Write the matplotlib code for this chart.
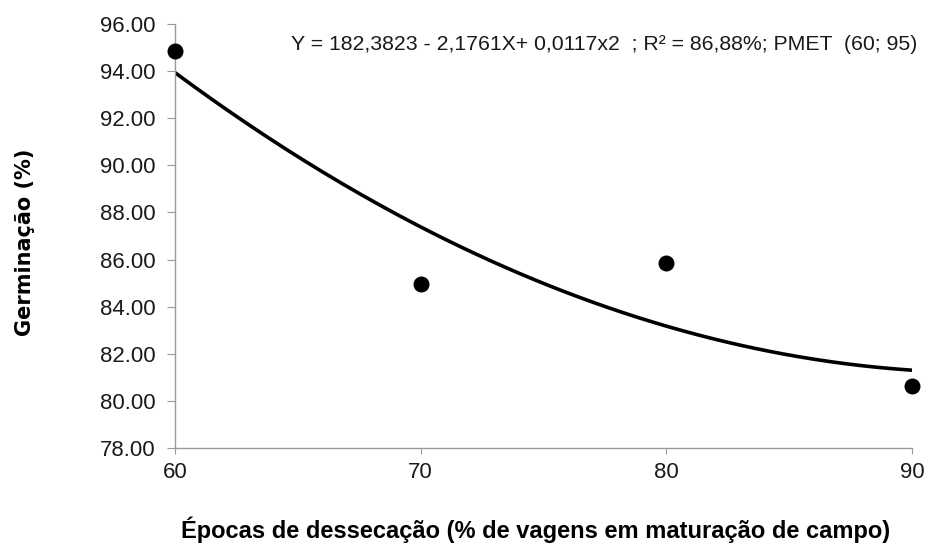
import numpy as np
import matplotlib.pyplot as plt

# dados observados
epocas = [60, 70, 80, 90]
germinacao = [94.85, 84.98, 85.85, 80.65]

# coeficientes da regressão (Y = b0 + b1*X + b2*X^2)
b0, b1, b2 = 182.3823, -2.1761, 0.0117
equacao = "Y = 182,3823 - 2,1761X+ 0,0117x2  ; R² = 86,88%; PMET  (60; 95)"

x_fit = np.linspace(60, 90, 200)
y_fit = b0 + b1 * x_fit + b2 * x_fit ** 2

fig = plt.figure(figsize=(9.29, 5.46), dpi=100)
ax = fig.add_axes([0.1884, 0.1795, 0.7933, 0.7765])

ax.plot(x_fit, y_fit, color="black", lw=2.6, zorder=2)
ax.plot(epocas, germinacao, "o", color="black", ms=10.5, zorder=3, clip_on=False)

ax.set_xlim(60, 90)
ax.set_ylim(78, 96)
ax.set_xticks([60, 70, 80, 90])
ax.set_yticks(np.arange(78, 96.1, 2))
ax.set_yticklabels([f"{v:.2f}" for v in np.arange(78, 96.1, 2)])

for s in ["top", "right"]:
    ax.spines[s].set_visible(False)
for s in ["left", "bottom"]:
    ax.spines[s].set_color("#999999")
    ax.spines[s].set_linewidth(1)
ax.tick_params(axis="both", colors="#999999", labelcolor="#1a1a1a", labelsize=16)
ax.tick_params(axis="y", length=6, pad=8)
ax.tick_params(axis="x", length=4, pad=6)
for lab in ax.get_xticklabels() + ax.get_yticklabels():
    lab.set_family("Liberation Sans")

fig.text(0.988, 0.918, equacao, ha="right", va="center",
         fontsize=15.3, family="Liberation Sans", color="#1a1a1a")

fig.text(0.027, 0.557, "Germinação (%)", rotation=90, ha="center", va="center",
         fontsize=15, fontweight="bold", family="DejaVu Sans")
fig.text(0.577, 0.029, "Épocas de dessecação (% de vagens em maturação de campo)",
         ha="center", va="center", fontsize=17, fontweight="bold",
         family="Liberation Sans")

fig.savefig("out.png", dpi=100)
